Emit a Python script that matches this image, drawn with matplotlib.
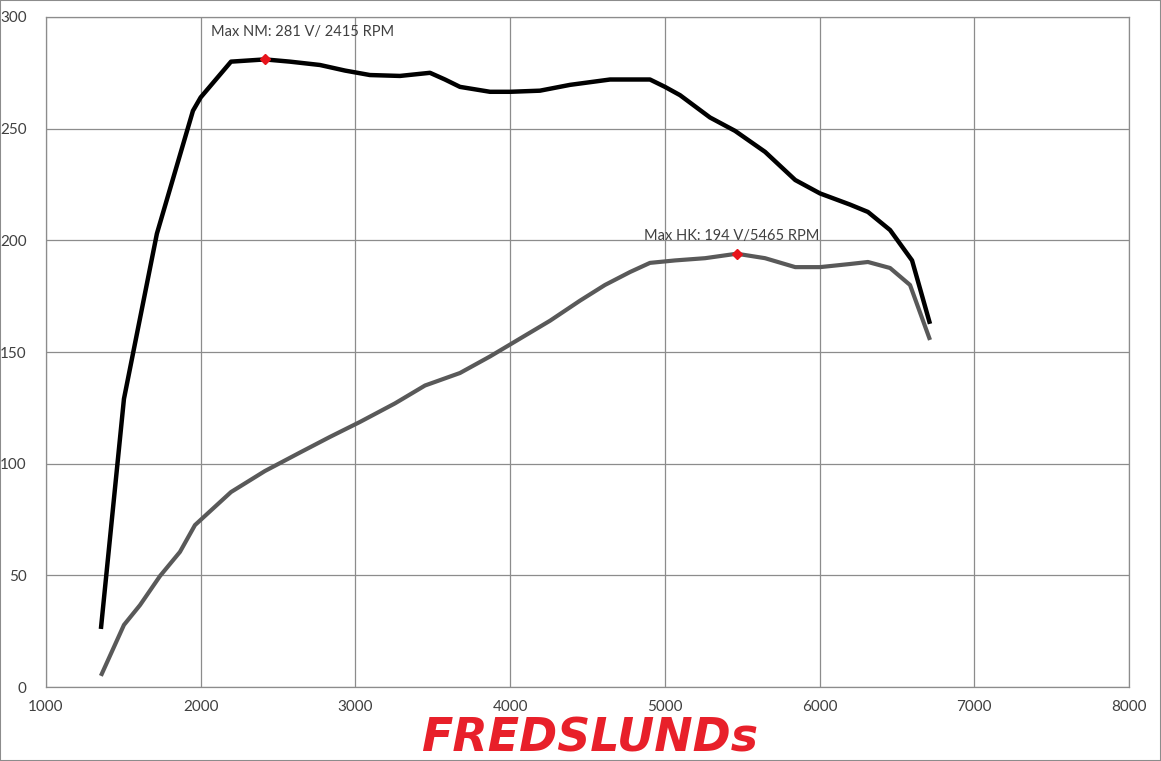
import numpy as np
import matplotlib
matplotlib.use("Agg")
import matplotlib.pyplot as plt
from matplotlib.patches import Rectangle

# --- Data ---
rpm_nm = [1355, 1504, 1717, 1950, 2000, 2196, 2415, 2577, 2771, 2933, 3094, 3288,
          3482, 3579, 3676, 3870, 4000, 4193, 4387, 4646, 4904, 5001, 5098, 5195,
          5292, 5454, 5648, 5843, 6003, 6197, 6313, 6456, 6598, 6714]
torque_nm = [26, 129, 203, 258, 264, 280, 281, 280, 278.5, 276, 274, 273.6,
             275, 272, 268.7, 266.5, 266.5, 267, 269.6, 272, 272, 268.7, 265, 260,
             255, 249, 239.6, 227, 221, 216, 212.7, 204.6, 191, 162.6]

rpm_hk = [1355, 1504, 1608, 1737, 1866, 1963, 2196, 2415, 2642, 2836, 3030, 3256,
          3450, 3676, 3870, 4064, 4258, 4452, 4613, 4775, 4904, 5066, 5260, 5465,
          5648, 5843, 6003, 6197, 6313, 6456, 6585, 6714]
power_hk = [5, 27.8, 36.7, 49.7, 60.5, 72.5, 87.3, 96.7, 105, 112, 118.7, 127,
            135, 140.6, 148, 156, 164, 173, 180, 185.8, 189.9, 191, 192, 194,
            192, 188, 188, 189.4, 190.3, 187.6, 180, 155.4]

max_nm = (2415, 281)
max_hk = (5465, 194)

x_ticks = [1000, 2000, 3000, 4000, 5000, 6000, 7000, 8000]
y_ticks = [0, 50, 100, 150, 200, 250, 300]

plt.rcParams['font.family'] = ['Lato', 'DejaVu Sans']

# --- Figure ---
fig = plt.figure(figsize=(11.61, 7.61), dpi=100)
ax = fig.add_axes([0.0396, 0.0972, 0.9328, 0.8805])

ax.plot(rpm_nm, torque_nm, color='black', lw=3.2, solid_capstyle='butt',
        solid_joinstyle='round', zorder=3)
ax.plot(rpm_hk, power_hk, color='#595959', lw=3.0, solid_capstyle='butt',
        solid_joinstyle='round', zorder=3)

# peak markers
ax.plot(*max_nm, marker='D', color='#e8141c', ms=5, zorder=4)
ax.plot(*max_hk, marker='D', color='#e8141c', ms=5, zorder=4)
ax.text(2067, 290, f"Max NM: {max_nm[1]} V/ {max_nm[0]} RPM",
        ha='left', va='bottom', fontsize=10.5, color='#404040')
ax.text(max_hk[0] - 30, max_hk[1] + 5, f"Max HK: {max_hk[1]} V/{max_hk[0]} RPM",
        ha='center', va='bottom', fontsize=10.5, color='#404040')

ax.set_xlim(1000, 8000)
ax.set_ylim(0, 300)
ax.set_xticks(x_ticks)
ax.set_yticks(y_ticks)
ax.tick_params(length=0, labelsize=11, labelcolor='#404040')
ax.tick_params(axis='y', pad=14)
ax.tick_params(axis='x', pad=9)
ax.grid(True, color='#8c8c8c', lw=0.9)
ax.set_axisbelow(True)
for s in ax.spines.values():
    s.set_color('#8c8c8c')
    s.set_linewidth(0.9)

# logo
fig.text(0.508, 0.012, "FREDSLUNDs", ha='center', va='baseline',
         fontsize=33, fontweight='heavy', fontstyle='italic', color='#e8202a',
         family='DejaVu Sans')

# outer border
fig.patches.append(Rectangle((0, 0), 1, 1, transform=fig.transFigure,
                             fill=False, edgecolor='#8c8c8c', lw=1.5))

fig.savefig("out.png", dpi=100)
